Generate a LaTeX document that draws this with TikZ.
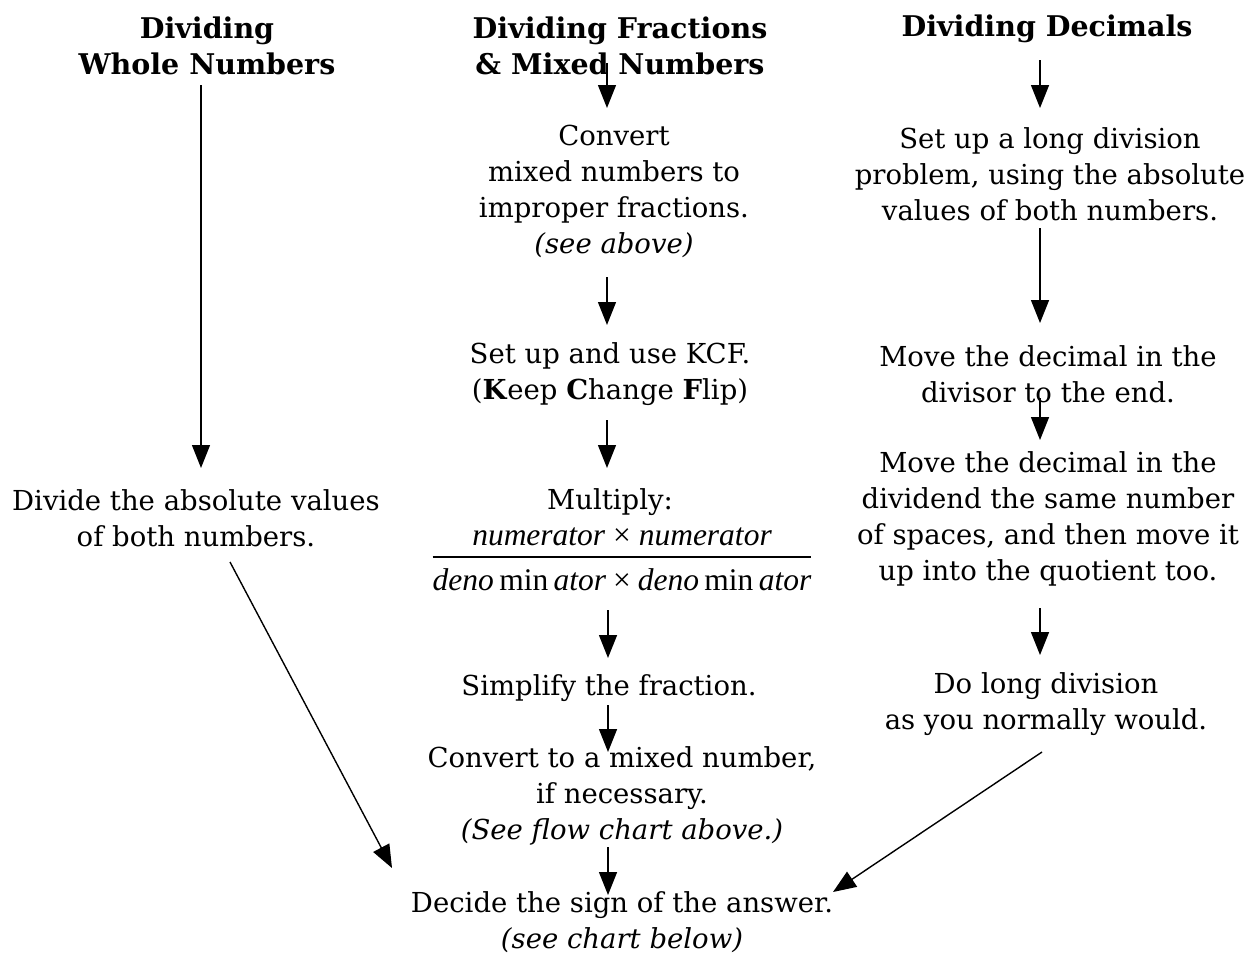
\documentclass[tikz,border=0pt]{standalone}
\usepackage{fontspec}
\setmainfont{DejaVu Serif}
\newfontfamily\fracfont{Liberation Serif}
\usetikzlibrary{arrows.meta,calc}
\begin{document}
\begin{tikzpicture}[x=1pt,y=-1pt,
  txt/.style={align=center,inner sep=0pt,font=\fontsize{27.5}{36}\selectfont},
  hd/.style={align=center,inner sep=0pt,font=\fontsize{28.5}{36}\selectfont\bfseries},
  frac/.style={inner sep=0pt,font=\fontsize{31.5}{36}\fracfont},
  arr/.style={line width=1.4pt,-{Triangle[width=18pt,length=23pt]}},
  fracline/.style={line width=1.4pt}]
\useasboundingbox (0,0) rectangle (1249,953);

% headings
\node[hd] (h1) at (207,46) {Dividing\\Whole Numbers};
\node[hd] (h2) at (620,46) {Dividing Fractions\\\& Mixed Numbers};
\node[hd] (h3) at (1047,29) {Dividing Decimals};

% whole numbers column
\node[txt] (w1) at (196,518) {Divide the absolute values\\of both numbers.};

% fractions column
\node[txt] (f1) at (614,191) {Convert\\mixed numbers to\\improper fractions.\\\textit{(see above)}};
\node[txt] (f2) at (610,374) {Set up and use KCF.\\(\textbf{K}eep \textbf{C}hange \textbf{F}lip)};
\node[txt] (f3) at (610,502) {Multiply:};
\node[frac] (num) at (622,537) {\itshape numerator\hspace{0.25em}\upshape×\hspace{0.25em}\itshape numerator};
\node[frac] (den) at (622,580) {\itshape deno\hspace{0.17em}\upshape min\hspace{0.17em}\itshape ator\hspace{0.22em}\upshape×\hspace{0.22em}\itshape deno\hspace{0.17em}\upshape min\hspace{0.17em}\itshape ator};
\draw[fracline] (den.west |- 0,557) -- (den.east |- 0,557);
\node[txt] (f4) at (609,688) {Simplify the fraction.};
\node[txt] (f5) at (622,796) {Convert to a mixed number,\\if necessary.\\\textit{(See flow chart above.)}};
\node[txt] (f6) at (622,922) {Decide the sign of the answer.\\\textit{(see chart below)}};

% decimals column
\node[txt] (d1) at (1050,174) {Set up a long division\\problem, using the absolute\\values of both numbers.};
\node[txt] (d2) at (1048,374) {Move the decimal in the\\divisor to the end.};
\node[txt] (d3) at (1048,519) {Move the decimal in the\\dividend the same number\\of spaces, and then move it\\up into the quotient too.};
\node[txt] (d4) at (1046,704) {Do long division\\as you normally would.};

% connectors
\draw[arr] ($(h1)+(-6,39)$) -- ($(w1)+(5,-50)$);
\draw[arr] ($(h2)+(-13,17)$) -- ($(f1)+(-7,-83)$);
\draw[arr] ($(h3)+(-7,31)$) -- ($(d1)+(-10,-66)$);
\draw[arr] ($(f1)+(-7,86)$) -- ($(f2)+(-3,-49)$);
\draw[arr] ($(f2)+(-3,46)$) -- ($(f3)+(-3,-34)$);
\draw[arr] ($(den)+(-14,30)$) -- ($(f4)+(-1,-30)$);
\draw[arr] ($(f4)+(-1,17)$) -- ($(f5)+(-14,-44)$);
\draw[arr] ($(f5)+(-14,51)$) -- ($(f6)+(-14,-27)$);
\draw[arr] ($(d1)+(-10,54)$) -- ($(d2)+(-8,-51)$);
\draw[arr] ($(d2)+(-8,24)$) -- ($(d3)+(-8,-79)$);
\draw[arr] ($(d3)+(-8,89)$) -- ($(d4)+(-6,-49)$);
\draw[arr] ($(w1)+(34,44)$) -- ($(f6)+(-230,-54)$);
\draw[arr] ($(d4)+(-4,48)$) -- ($(f6)+(211,-30)$);
\end{tikzpicture}
\end{document}
